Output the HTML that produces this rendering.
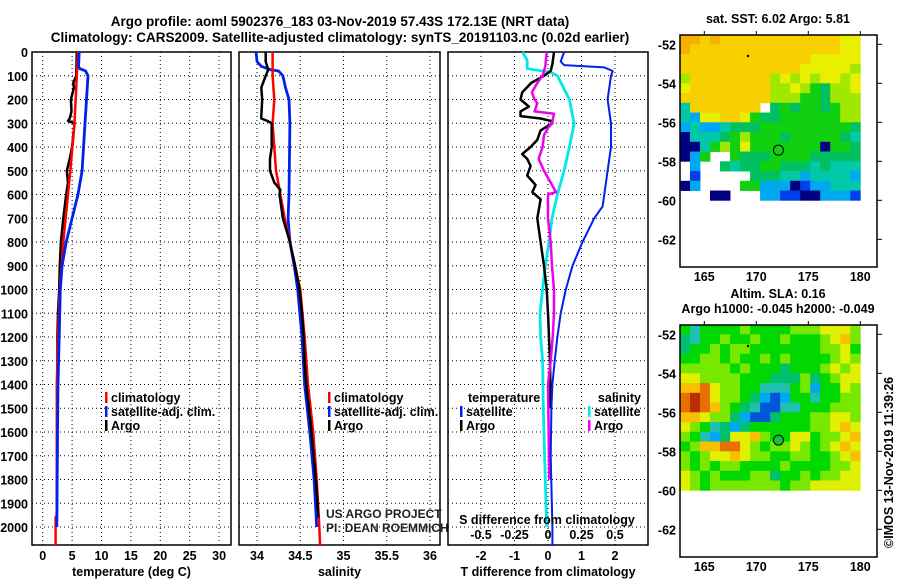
<!DOCTYPE html>
<html><head><meta charset="utf-8">
<style>
html,body{margin:0;padding:0;background:#fff;}
svg{display:block;font-family:"Liberation Sans",Arial,sans-serif;}
.b{font-weight:bold;font-size:12.5px;}
</style></head>
<body>
<svg id="c" width="900" height="580" viewBox="0 0 900 580">
<text x="340" y="26" text-anchor="middle" class="b" style="font-size:13.5px">Argo profile: aoml 5902376_183 03-Nov-2019 57.43S 172.13E (NRT data)</text>
<text x="340" y="42" text-anchor="middle" class="b" style="font-size:13.5px">Climatology: CARS2009. Satellite-adjusted climatology: synTS_20191103.nc (0.02d earlier)</text>
<g id="g"></g>
</svg>
<script>
// ---------- profile data ----------
const depthTicks=[0,100,200,300,400,500,600,700,800,900,1000,1100,1200,1300,1400,1500,1600,1700,1800,1900,2000];
const tempTicks=[0,5,10,15,20,25,30];
const salTicks=[34,34.5,35,35.5,36];
const salTickLabels=["34","34.5","35","35.5","36"];
const tdTicks=[-2,-1,0,1,2];
const sdTicks=[-0.5,-0.25,0,0.25,0.5];
const sdTickLabels=["-0.5","-0.25","0","0.25","0.5"];

const tClimDepth=[0,100,300,500,600,800,1000,1200,1400,1600,1950,1960,2080];
const tClim=[6.0,5.8,5.4,4.7,4.3,3.5,2.9,2.6,2.4,2.4,2.4,2.2,2.2];
const tSatDepth=[0,60,70,80,100,300,500,600,700,800,900,1000,1200,1400,1650,2000];
const tSat=[6.2,6.1,6.3,7.3,7.7,7.2,6.7,6.0,5.0,4.0,3.3,3.0,2.8,2.6,2.5,2.4];
const tArgoDepth=[0,100,130,150,200,250,280,290,300,400,450,500,550,600,700,800,900,1000,1100,1200,1350,1500,1700,1960];
const tArgo=[5.8,5.7,5.2,5.3,4.8,4.9,4.6,4.3,5.4,5.0,4.6,4.1,4.3,4.0,3.5,3.1,2.9,2.8,2.6,2.5,2.5,2.5,2.5,2.4];

const sClimDepth=[0,100,200,300,400,500,600,700,800,900,1000,1200,1400,1600,1800,2000,2080];
const sClim=[34.18,34.18,34.2,34.18,34.2,34.22,34.27,34.32,34.38,34.44,34.5,34.55,34.59,34.65,34.69,34.72,34.73];
const sSatDepth=[0,40,60,75,80,100,150,200,300,600,700,800,900,1000,1200,1400,1600,1800,2000];
const sSat=[33.99,34.0,34.05,34.16,34.25,34.3,34.33,34.37,34.38,34.37,34.36,34.38,34.43,34.47,34.52,34.55,34.61,34.66,34.69];
const sArgoDepth=[0,40,75,100,150,200,270,280,290,300,400,450,500,550,580,600,700,800,900,1000,1100,1200,1300,1400,1600,1800,1960];
const sArgo=[34.1,34.1,34.13,34.1,34.05,34.06,34.05,34.05,34.12,34.17,34.17,34.15,34.15,34.2,34.27,34.26,34.3,34.38,34.44,34.49,34.52,34.54,34.55,34.57,34.63,34.68,34.71];

const dTSatDepth=[0,40,55,65,80,100,200,300,400,500,600,650,700,800,900,1000,1100,1200,1300,1400,1500,1700,2000,2080];
const dTSat=[0.48,0.38,0.48,1.68,1.93,1.88,1.78,1.88,1.88,1.78,1.68,1.63,1.38,1.03,0.73,0.53,0.38,0.28,0.2,0.13,0.1,0.08,0.13,0.13];
const dTArgoDepth=[0,50,80,100,130,170,200,230,250,270,280,290,300,330,370,400,430,450,480,520,560,590,620,700,800,900,1000,1100,1200,1300,1500];
const dTArgo=[0.18,0.13,0.08,-0.12,-0.5,-0.77,-0.82,-0.57,-0.82,-0.82,-0.22,0.08,0.13,-0.22,-0.32,-0.52,-0.77,-0.62,-0.52,-0.62,-0.37,-0.47,-0.22,-0.32,-0.22,-0.12,-0.04,0,0.03,0.06,0.08];
const dSSatDepth=[0,35,70,85,100,200,300,400,500,600,700,800,900,1000,1100,1200,1300,1500,1700,2000];
const dSSat=[-0.19,-0.155,-0.155,0.02,0.07,0.16,0.195,0.16,0.12,0.07,0.03,0.008,-0.02,-0.04,-0.06,-0.055,-0.04,-0.035,-0.025,-0.01];
const dSArgoDepth=[0,60,100,130,170,200,215,250,260,300,320,350,400,450,500,550,590,600,700,800,900,1000,1100,1200,1300,1400,1800];
const dSArgo=[-0.01,-0.02,-0.04,-0.08,-0.12,-0.1,-0.08,-0.1,0.045,0.03,0,-0.03,-0.04,-0.07,-0.03,0.02,0.06,0,0,0.02,0.03,0.045,0.045,0.035,0.02,0,0.01];

// ---------- map data (rows from -51.5 to -60, 0.5 deg; 18 cols from 162.6 to 180) ----------
const sstRows=["aa9a99999999999988","a99999999999999988","999999999999988888","999999999999888887","799999999787878878","899999999778765778","999999999777665777","499999990565665677","438899865566666677","343345556666666665","144456766656666654","114676866666661665","136006555666655555","030054556655545444","020000055544344443","130000663331233444","000110003322113332"];
const slaRows=["535555655556667776","435565565565556786","455656655555556675","556656556565555676","666665655545556767","776666555444645677","889766553335625576","9a9766542125535566","9a9865431133555666","887664211455566776","765342455555566787","653247786557756678","568899765667656787","656778766556655678","656566555565555667","765655566455656677","765666666656677777"];
const sstColors={"0":null,"1":"#000080","2":"#0040e8","3":"#00a8f0","4":"#00c8a8","5":"#00c060","6":"#10d010","7":"#a0e800","8":"#e8f000","9":"#f8d000","a":"#f8b000"};
const slaColors={"0":"#001890","1":"#0058d8","2":"#00a8f0","3":"#20c0b0","4":"#00c070","5":"#00d800","6":"#78e800","7":"#e0f000","8":"#f8c000","9":"#e87000","a":"#b83000"};
const argoLon=172.13, argoLat=-57.43;
const mapLonTicks=[165,170,175,180];
const mapLatTicks=[-52,-54,-56,-58,-60,-62];

// ---------- helpers ----------
const NS="http://www.w3.org/2000/svg";
const G=document.getElementById('g');
function mk(tag,attrs,parent){const e=document.createElementNS(NS,tag);for(const k in attrs)e.setAttribute(k,attrs[k]);(parent||G).appendChild(e);return e;}
const yD=d=>52+d*0.2375;
const TOP=52,BOT=545;

function panel(name,x0,x1,xs,ticks,labels,xtitle){
  const g=mk('g',{});
  
  
  ticks.forEach((t,i)=>{
    const l=mk('line',{x1:xs(t),x2:xs(t),y1:TOP,y2:BOT,stroke:'#000','stroke-width':1,'stroke-dasharray':'1 3'},g);
    
    
    if(labels){const tx=mk('text',{x:xs(t),y:560,'text-anchor':'middle',class:'b'},g);tx.textContent=labels[i];
      
      }
  });
  depthTicks.forEach(d=>{
    const l=mk('line',{x1:x0,x2:x1,y1:yD(d),y2:yD(d),stroke:'#000','stroke-width':1,'stroke-dasharray':'1 3'},g);
    
    
  });
  const r=mk('rect',{x:x0,y:TOP,width:x1-x0,height:BOT-TOP,fill:'none',stroke:'#000','stroke-width':1.5},g);
  
  
  const tt=mk('text',{x:(x0+x1)/2,y:576,'text-anchor':'middle',class:'b'},g);tt.textContent=xtitle;
  
  
  return g;
}
function line(g,xs,ds,vs,color,w,name){
  const pts=ds.map((d,i)=>xs(vs[i]).toFixed(1)+','+yD(d).toFixed(1)).join(' ');
  const p=mk('polyline',{points:pts,fill:'none',stroke:color,'stroke-width':w,'stroke-linejoin':'round'},g);
  
  
}
function txt(g,x,y,s,cls,anchor,name,extra){
  const t=mk('text',Object.assign({x:x,y:y,class:cls||'b','text-anchor':anchor||'start'},extra||{}),g);t.textContent=s;
  
  
  return t;
}
function legend(g,x,y,color,label){
  const r=mk('rect',{x:x,y:y-10,width:2.5,height:11,fill:color},g);
  
  
  txt(g,x+6,y,label,'b','start','legend-entry');
}

// depth labels
depthTicks.forEach(d=>{txt(G,28,yD(d)+5,String(d),'b','end','y-tick-label');});

// Panel 1 temperature
const xT=t=>42.7+t*5.88;
const p1=panel('temperature-panel',32,231,xT,tempTicks,tempTicks.map(String),'temperature (deg C)');
line(p1,xT,tArgoDepth,tArgo,'#000',2.5,'argo-temperature-line');
line(p1,xT,tClimDepth,tClim,'#f00',2.5,'climatology-temperature-line');
line(p1,xT,tSatDepth,tSat,'#0020f0',2.8,'satellite-temperature-line');
legend(p1,105,402,'#f00','climatology');legend(p1,105,416,'#0020f0','satellite-adj. clim.');legend(p1,105,430,'#000','Argo');

// Panel 2 salinity
const xS=s=>257+(s-34)*86.5;
const p2=panel('salinity-panel',239,440,xS,salTicks,salTickLabels,'salinity');
line(p2,xS,sSatDepth,sSat,'#0020f0',2.8,'satellite-salinity-line');
line(p2,xS,sClimDepth,sClim,'#f00',2.5,'climatology-salinity-line');
line(p2,xS,sArgoDepth,sArgo,'#000',2.5,'argo-salinity-line');
legend(p2,328,402,'#f00','climatology');legend(p2,328,416,'#0020f0','satellite-adj. clim.');legend(p2,328,430,'#000','Argo');
txt(p2,326,518,'US ARGO PROJECT','', 'start','credit-project',{style:'font-size:12px;fill:#222'});
txt(p2,326,532,'PI: DEAN ROEMMICH','', 'start','credit-pi',{style:'font-size:12px;fill:#222'});

// Panel 3 differences
const xDT=v=>548+v*33.5;
const xDS=v=>548+v*134;
const p3=panel('difference-panel',448,648,xDT,tdTicks,tdTicks.map(String),'T difference from climatology');
line(p3,xDS,dSSatDepth,dSSat,'#00e8e8',2.8,'satellite-salinity-diff-line');
line(p3,xDT,dTArgoDepth,dTArgo,'#000',2.5,'argo-temperature-diff-line');
line(p3,xDS,dSArgoDepth,dSArgo,'#f000f0',2.5,'argo-salinity-diff-line');
line(p3,xDT,dTSatDepth,dTSat,'#0020f0',2,'satellite-temperature-diff-line');
txt(p3,468,402,'temperature','b','start','legend-title-temperature');
legend(p3,460,416,'#0020f0','satellite');legend(p3,460,430,'#000','Argo');
txt(p3,641,402,'salinity','b','end','legend-title-salinity');
legend(p3,588,416,'#00e8e8','satellite');legend(p3,588,430,'#f000f0','Argo');
txt(p3,547,524,'S difference from climatology','b','middle','s-axis-title');
sdTicks.forEach((v,i)=>txt(p3,xDS(v),539,sdTickLabels[i],'b','middle','s-tick-label'));

// ---------- maps ----------
function drawMap(name,top,rows,colors,title1,title2,filledCircle){
  const g=mk('g',{});
  
  
  const lx=lon=>704.3+(lon-165)*10.4;
  const ly=lat=>top+9.3+(-52-lat)*19.5;
  const lon0=162.66,lon1=180,nc=rows[0].length,nr=rows.length;
  const dl=(lon1-lon0)/nc;
  rows.forEach((row,r)=>{
    for(let c=0;c<nc;c++){
      const col=colors[row[c]];if(!col)continue;
      const x=lx(lon0+c*dl),y=ly(-51.5-r*0.5);
      const cell=mk('rect',{x:x.toFixed(2),y:y.toFixed(2),width:(lx(lon0+(c+1)*dl)-x+0.4).toFixed(2),height:(ly(-52-r*0.5)-y+0.4).toFixed(2),fill:col},g);
      
      
    }
  });
  const fr=mk('rect',{x:680,y:top,width:197,height:232,fill:'none',stroke:'#000','stroke-width':1.5},g);
  
  
  mapLonTicks.forEach(l=>{
    mk('line',{x1:lx(l),x2:lx(l),y1:top-4,y2:top,stroke:'#000'},g);
    txt(g,lx(l),top+246,String(l),'b','middle','map-lon-label');
  });
  mapLatTicks.forEach(l=>{
    mk('line',{x1:877,x2:882,y1:ly(l),y2:ly(l),stroke:'#000'},g);
    txt(g,676,ly(l)+5,String(l),'b','end','map-lat-label');
  });
  const dot=mk('circle',{cx:lx(169.2),cy:ly(-52.6),r:1.2,fill:'#000'},g);
  
  
  const ci=mk('circle',{cx:lx(argoLon),cy:ly(argoLat),r:5,fill:filledCircle?'#10c040':'none',stroke:'#000','stroke-width':1},g);
  
  
  if(title2){txt(g,778,top-27,title1,'b','middle','map-title');txt(g,778,top-12,title2,'b','middle','map-subtitle');}
  else txt(g,778,top-12,title1,'b','middle','map-title');
}
drawMap('sst-map',35,sstRows,sstColors,'sat. SST: 6.02 Argo: 5.81',null,false);
drawMap('sla-map',325,slaRows,slaColors,'Altim. SLA: 0.16','Argo h1000: -0.045 h2000: -0.049',true);
txt(G,893,548,'©IMOS 13-Nov-2019 11:39:26','', 'start','timestamp',{transform:'rotate(-90 893 548)',style:'font-size:12.5px'});
</script>
</body></html>
